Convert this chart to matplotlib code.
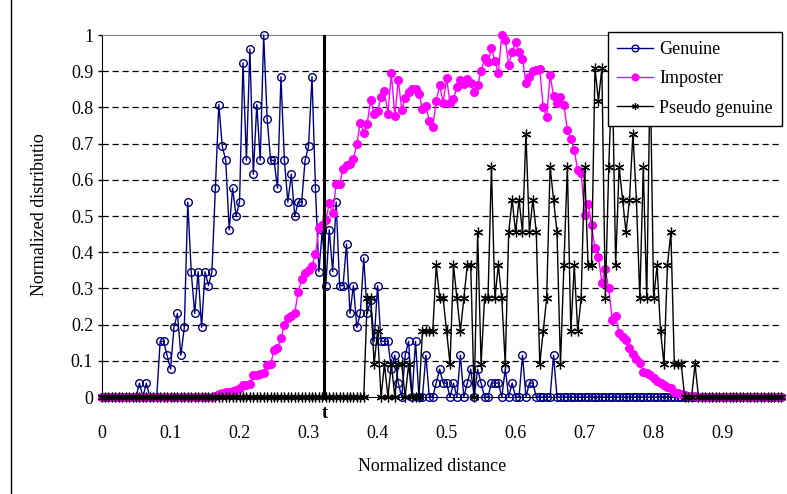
import numpy as np
import matplotlib
matplotlib.use("Agg")
import matplotlib.pyplot as plt
from matplotlib.lines import Line2D

plt.rcParams['font.family'] = ['Liberation Serif', 'DejaVu Serif']

# ---- data ----
step = 0.005
n_points = 198
x = np.round(np.arange(n_points) * step, 3)

# Genuine: counts out of 26 (normalized by max count)
genuine_counts = [0]*11 + [1, 0, 1, 0, 0, 0,
    4, 4, 3, 2, 5, 6, 3, 5, 14, 9, 6, 9, 5, 9, 8, 9, 15, 21, 18, 17, 12, 15, 13, 14,
    24, 17, 25, 16, 21, 17, 26, 20, 17, 17, 15, 23, 17, 14, 16, 13, 14, 14, 17, 18,
    23, 15, 9, 12, 8, 12, 9, 14, 8, 8, 11, 6, 8, 5, 6, 10, 6, 7, 4, 8,
    4, 4, 4, 2, 3, 1, 0, 3, 4, 0, 4, 0, 0, 3, 0, 0, 1, 2, 1, 1,
    0, 1, 0, 3, 0, 1, 2, 0, 2, 1, 0, 0, 1, 1, 1, 0, 2, 0, 1, 0,
    0, 3, 0, 1, 1, 0, 0, 0, 0, 0, 3] + [0]*66
genuine_max = 26

# Imposter: normalized values
imposter = [0.0]*33 + [
    0.004, 0.008, 0.010, 0.013, 0.015, 0.017, 0.019, 0.025, 0.033, 0.033,
    0.035, 0.060, 0.061, 0.063, 0.066, 0.088, 0.090, 0.130, 0.136, 0.162,
    0.199, 0.217, 0.225, 0.232, 0.290, 0.325, 0.342, 0.352, 0.363, 0.394,
    0.466, 0.476, 0.489, 0.535, 0.507, 0.588, 0.588, 0.630, 0.642, 0.645,
    0.658, 0.699, 0.758, 0.730, 0.755, 0.821, 0.782, 0.790, 0.828, 0.845,
    0.783, 0.894, 0.775, 0.876, 0.793, 0.826, 0.842, 0.850, 0.850, 0.838,
    0.796, 0.805, 0.762, 0.747, 0.817, 0.862, 0.813, 0.880, 0.813, 0.823,
    0.857, 0.877, 0.865, 0.879, 0.867, 0.842, 0.862, 0.900, 0.937, 0.925,
    0.963, 0.929, 0.894, 1.000, 0.987, 0.918, 0.953, 0.980, 0.953, 0.935,
    0.867, 0.883, 0.901, 0.904, 0.906, 0.800, 0.773, 0.890, 0.832, 0.813,
    0.829, 0.807, 0.738, 0.714, 0.681, 0.627, 0.618, 0.502, 0.534, 0.475,
    0.411, 0.388, 0.316, 0.353, 0.300, 0.213, 0.224, 0.176, 0.167, 0.157,
    0.134, 0.120, 0.105, 0.095, 0.070, 0.065, 0.061, 0.052, 0.044, 0.038,
    0.032, 0.028, 0.024, 0.015, 0.011, 0.008, 0.006, 0.004, 0.003, 0.002] + [0.0]*25

# Pseudo genuine: counts out of 11
pseudo_counts = [0]*77 + [
    3, 3, 1, 2, 0, 1, 0, 1, 0, 1, 1, 0, 1, 0, 0, 0, 2, 2, 2, 2,
    4, 3, 3, 2, 1, 4, 3, 2, 3, 4, 4, 0, 5, 1, 3, 3, 7, 3, 4, 3,
    1, 5, 6, 5, 6, 5, 8, 5, 6, 5, 1, 2, 3, 7, 6, 5, 1, 4, 7, 2,
    4, 2, 3, 7, 4, 4, 10, 9, 10, 3, 7, 10, 4, 7, 6, 5, 6, 8, 6, 3,
    7, 3, 10, 3, 4, 2, 1, 4, 5, 1, 1, 1, 0, 0, 0, 1] + [0]*25
pseudo_max = 11

threshold_t = 0.323

x_ticks = [0, 0.1, 0.2, 0.3, 0.4, 0.5, 0.6, 0.7, 0.8, 0.9]
x_tick_labels = ['0', '0.1', '0.2', '0.3', '0.4', '0.5', '0.6', '0.7', '0.8', '0.9']
y_ticks = [0, 0.1, 0.2, 0.3, 0.4, 0.5, 0.6, 0.7, 0.8, 0.9, 1.0]
y_tick_labels = ['0', '0.1', '0.2', '0.3', '0.4', '0.5', '0.6', '0.7', '0.8', '0.9', '1']

genuine = np.array(genuine_counts) / genuine_max
pseudo = np.array(pseudo_counts) / pseudo_max
imposter = np.array(imposter)

# ---- figure ----
W, H = 787, 494
fig = plt.figure(figsize=(W/100, H/100), dpi=100)
x0, x1, ytop, ybot = 101.5, 782, 35, 397
ax = fig.add_axes([x0/W, 1-ybot/H, (x1-x0)/W, (ybot-ytop)/H])
ax.set_xlim(0, 0.986)
ax.set_ylim(0, 1)

ax.set_yticks(y_ticks)
ax.set_yticklabels(y_tick_labels)
ax.set_xticks(x_ticks)
ax.set_xticklabels(x_tick_labels)
ax.tick_params(axis='y', direction='out', length=3, width=1, pad=3, labelsize=13)
ax.tick_params(axis='x', length=0, pad=20, labelsize=13)

for yv in y_ticks[1:-1]:
    ax.axhline(yv, color='black', linewidth=0.9, linestyle=(0, (5, 3)), zorder=1)

ax.spines['left'].set_color('black')
ax.spines['bottom'].set_color('black')
ax.spines['top'].set_color('#808080')
ax.spines['right'].set_visible(False)

lg, = ax.plot(x, genuine, color='#000080', linewidth=1.0, marker='o', markersize=5.5,
              markerfacecolor='none', markeredgecolor='#000080', markeredgewidth=1.0,
              clip_on=False, zorder=3, label='Genuine')
li, = ax.plot(x, imposter, color='#FF00FF', linewidth=1.0, marker='o', markersize=5.5,
              markerfacecolor='#FF00FF', markeredgecolor='#FF00FF',
              clip_on=False, zorder=4, label='Imposter')
lp, = ax.plot(x, pseudo, color='black', linewidth=1.0, marker=(6, 2, 0), markersize=7,
              markeredgewidth=0.9, clip_on=False, zorder=5, label='Pseudo genuine')

ax.plot([threshold_t, threshold_t], [0, 1], color='black', linewidth=2.2, zorder=6)

leg = fig.legend(handles=[lg, li, lp], loc='upper right',
                 bbox_to_anchor=(782/W, 1-32/H), bbox_transform=fig.transFigure,
                 fontsize=13, frameon=True, fancybox=False, framealpha=1,
                 edgecolor='black', handlelength=2.0, handletextpad=0.35,
                 labelspacing=0.68, borderpad=0.5, borderaxespad=0)
leg.get_frame().set_linewidth(1.0)
for h in leg.legend_handles:
    h.set_markersize(4.8)
leg.set_zorder(10)

fig.text(325/W, 1-413/H, 't', fontsize=13, fontweight='bold', ha='center', va='center')
fig.text((x0+x1)/2/W - 0.012, 1-466/H, 'Normalized distance', fontsize=13,
         ha='center', va='center')
fig.text(40/W, 1-215/H, 'Normalized distributio', fontsize=13, rotation=90,
         ha='center', va='center')

fig.add_artist(Line2D([10.5/W, 10.5/W], [0, 1], color='black', linewidth=1.0,
                      transform=fig.transFigure))

fig.savefig('out.png', dpi=100)
